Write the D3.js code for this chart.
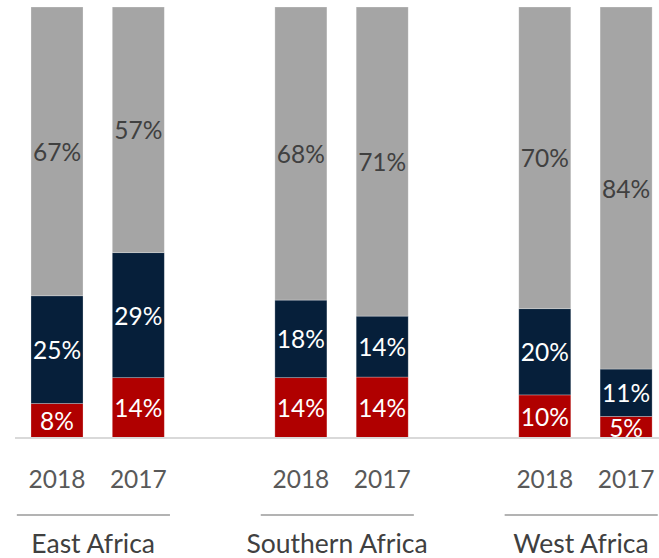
<!DOCTYPE html>
<html>
<head>
<meta charset="utf-8">
<script src="https://cdn.jsdelivr.net/npm/d3@7"></script>
<style>
  html, body { margin: 0; padding: 0; background: #ffffff; }
  svg { display: block; font-family: Lato, "Open Sans", sans-serif; }
</style>
</head>
<body>
<svg id="chart" width="659" height="558"></svg>
<script>
// Regions and the two survey years shown for each
const regions = ["East Africa", "Southern Africa", "West Africa"];
const years = ["2018", "2017"];

// Share of respondents per segment, in percent (bottom to top)
const redValues  = [8, 14, 14, 14, 10, 5];
const navyValues = [25, 29, 18, 14, 20, 11];
const greyValues = [67, 57, 68, 71, 70, 84];

const seriesKeys = ["red", "navy", "grey"];
const colors = { red: "#b00000", navy: "#061f3a", grey: "#a5a5a5" };
const labelColors = { red: "#ffffff", navy: "#ffffff", grey: "#404040" };

// One row per bar; a blank slot separates the regions
const rows = [];
regions.forEach((r, ri) => {
  years.forEach(y => {
    const i = rows.filter(d => !d.gap).length;
    rows.push({ key: r + "|" + y, region: r, year: y,
      red: redValues[i], navy: navyValues[i], grey: greyValues[i] });
  });
  if (ri < regions.length - 1) rows.push({ key: "gap" + ri, gap: true, red: 0, navy: 0, grey: 0 });
});
const bars = rows.filter(d => !d.gap);

const svg = d3.select("#chart");

const x = d3.scaleBand()
  .domain(rows.map(d => d.key))
  .range([16.35, 666.75])
  .paddingInner(0.36)
  .paddingOuter(0.18);

const y = d3.scaleLinear().domain([0, 1]).range([438, 7]);

const stacked = d3.stack()
  .keys(seriesKeys)
  .offset(d3.stackOffsetExpand)(bars);

const layers = svg.append("g").selectAll("g")
  .data(stacked)
  .join("g")
  .attr("fill", s => colors[s.key]);

layers.selectAll("rect")
  .data(s => s.map(p => ({ p, key: s.key })))
  .join("rect")
  .attr("x", d => x(d.p.data.key))
  .attr("width", x.bandwidth())
  .attr("y", d => y(d.p[1]))
  .attr("height", d => y(d.p[0]) - y(d.p[1]))
  .attr("stroke", "#ffffff")
  .attr("stroke-opacity", 0.35)
  .attr("stroke-width", 0.75);

// Value labels centred in each segment
layers.selectAll("text")
  .data(s => s.map(p => ({ p, key: s.key })))
  .join("text")
  .attr("x", d => x(d.p.data.key) + x.bandwidth() / 2)
  .attr("y", d => (y(d.p[0]) + y(d.p[1])) / 2)
  .attr("text-anchor", "middle")
  .attr("dominant-baseline", "central")
  .attr("font-size", 24.5)
  .attr("fill", d => labelColors[d.key])
  .text(d => d.p.data[d.key] + "%");

// Category axis baseline
svg.append("line")
  .attr("x1", 15).attr("x2", 659)
  .attr("y1", y(0)).attr("y2", y(0))
  .attr("stroke", "#d9d9d9")
  .attr("stroke-width", 2);

// Year labels
svg.append("g").selectAll("text")
  .data(bars)
  .join("text")
  .attr("x", d => x(d.key) + x.bandwidth() / 2)
  .attr("y", 478)
  .attr("text-anchor", "middle")
  .attr("dominant-baseline", "central")
  .attr("font-size", 24.5)
  .attr("fill", "#595959")
  .text(d => d.year);

// Region brackets and names
const groups = regions.map(r => {
  const ks = bars.filter(d => d.region === r).map(d => d.key);
  const start = x(ks[0]) - x.step() * x.paddingOuter();
  const end = x(ks[ks.length - 1]) + x.bandwidth() + x.step() * x.paddingOuter();
  return { region: r, start, end };
});

svg.append("g").selectAll("line")
  .data(groups)
  .join("line")
  .attr("x1", d => d.start + 0.5)
  .attr("x2", d => d.end - 9)
  .attr("y1", 515).attr("y2", 515)
  .attr("stroke", "#b3b3b3")
  .attr("stroke-width", 2);

svg.append("g").selectAll("text")
  .data(groups)
  .join("text")
  .attr("x", d => (d.start + d.end - 9) / 2)
  .attr("y", 543)
  .attr("text-anchor", "middle")
  .attr("dominant-baseline", "central")
  .attr("font-size", 26.5)
  .attr("fill", "#404040")
  .text(d => d.region);
</script>
</body>
</html>
